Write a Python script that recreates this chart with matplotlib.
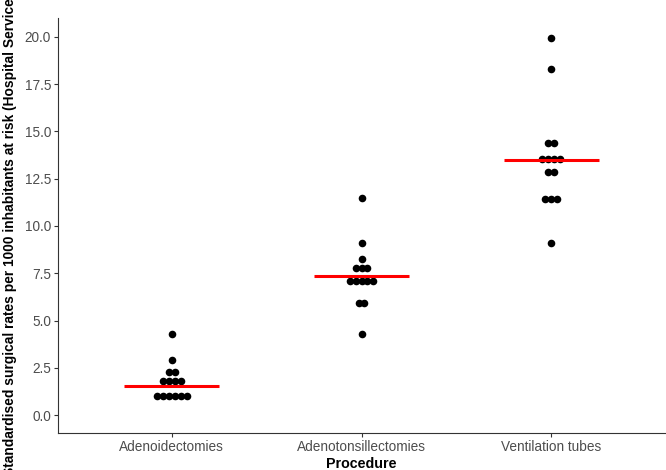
import matplotlib
matplotlib.use("Agg")
import matplotlib.pyplot as plt
import numpy as np
from collections import Counter

plt.rcParams['font.family'] = ['Liberation Sans', 'DejaVu Sans']

categories = ["Adenoidectomies", "Adenotonsillectomies", "Ventilation tubes"]
adeno = [1.0, 1.0, 1.0, 1.0, 1.0, 1.0, 1.81, 1.81, 1.81, 1.81, 2.26, 2.26, 2.91, 4.29]
adenotons = [4.29, 5.91, 5.91, 7.11, 7.11, 7.11, 7.11, 7.11, 7.80, 7.80, 7.80, 8.24, 9.08, 11.46]
vent = [9.08, 11.44, 11.44, 11.44, 12.88, 12.88, 13.53, 13.53, 13.53, 13.53, 14.37, 14.37, 18.31, 19.93]
medians = [1.52, 7.34, 13.50]
yticks = [0.0, 2.5, 5.0, 7.5, 10.0, 12.5, 15.0, 17.5, 20.0]

fig = plt.figure(figsize=(6.66, 4.70), dpi=100)
ax = fig.add_axes([58/666, 37/470, (665-58)/666, (433-18)/470])

spacing = 0.031
for i, vals in enumerate([adeno, adenotons, vent]):
    xc = i + 1
    cnt = Counter(vals)
    xs, ys = [], []
    for v, n in cnt.items():
        offs = (np.arange(n) - (n - 1) / 2) * spacing
        xs.extend(xc + offs)
        ys.extend([v] * n)
    ax.scatter(xs, ys, s=30, color='black', zorder=3, linewidths=0)
    ax.plot([xc - 0.25, xc + 0.25], [medians[i], medians[i]], color='#FF0000', lw=2.2, zorder=4, solid_capstyle='butt')

ax.set_xlim(0.4, 3.6)
ax.set_ylim(-0.95, 21.0)
ax.set_xticks([1, 2, 3])
ax.set_xticklabels(categories)
ax.set_yticks(yticks)
ax.set_yticklabels([f"{t:.1f}" for t in yticks])
for s in ['top', 'right']:
    ax.spines[s].set_visible(False)
for s in ['left', 'bottom']:
    ax.spines[s].set_color('#333333')
    ax.spines[s].set_linewidth(0.8)
ax.tick_params(axis='both', length=3, width=0.8, color='#333333', labelcolor='#4D4D4D', labelsize=9.8, pad=2)
ax.set_xlabel("Procedure", fontweight='bold', fontsize=10.3, color='black', labelpad=2)
ax.set_ylabel("Standardised surgical rates per 1000 inhabitants at risk (Hospital Service Area)",
              fontweight='bold', fontsize=9.9, color='black', labelpad=1)
ax.yaxis.set_label_coords(-41/607, 0.5 + 8/415)

fig.savefig("out.png", dpi=100)
